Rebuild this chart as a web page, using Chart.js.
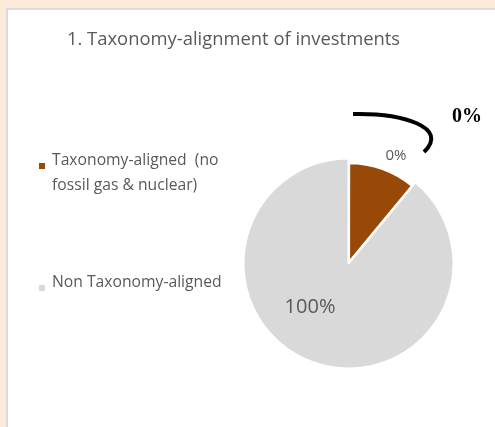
<!DOCTYPE html>
<html>
<head>
<meta charset="utf-8">
<script src="https://cdn.jsdelivr.net/npm/chart.js@4/dist/chart.umd.min.js"></script>
<style>
  html, body { margin: 0; padding: 0; background: #fcebd9; }
  #wrap { position: absolute; left: 0; top: 0; width: 495px; height: 427px; }
</style>
</head>
<body>
<div id="wrap"><canvas id="c" width="495" height="427"></canvas></div>
<script>
// data
const chartTitle = '1. Taxonomy-alignment of investments';
const categories = ['Taxonomy-aligned (no fossil gas & nuclear)', 'Non Taxonomy-aligned'];
const legendLines = [['Taxonomy-aligned  (no', 'fossil gas & nuclear)'], ['Non Taxonomy-aligned']];
const sliceValues = [11, 89];          // visible share of the pie
const sliceLabels = ['0%', '100%'];    // printed labels
const calloutText = '0%';
const sliceColors = ['#984807', '#d9d9d9'];

const font = '"Open Sans", Lato, sans-serif';
const textGrey = '#595959';

// background panel + title + legend + callout, all drawn on the canvas
const decor = {
  id: 'decor',
  beforeDraw(chart) {
    const ctx = chart.ctx;
    ctx.save();
    ctx.fillStyle = '#fcebd9';
    ctx.fillRect(0, 0, 495, 427);
    ctx.fillStyle = '#dcdcdc';
    ctx.fillRect(6, 8, 489, 419);
    ctx.fillStyle = '#ffffff';
    ctx.fillRect(8, 10, 487, 417);

    ctx.fillStyle = textGrey;
    ctx.textBaseline = 'alphabetic';
    ctx.font = '18.4px ' + font;
    ctx.fillText(chartTitle, 67, 45);

    // legend
    ctx.font = '15.7px ' + font;
    const legendY = [165, 287];
    legendLines.forEach((lines, i) => {
      ctx.fillStyle = sliceColors[i];
      ctx.fillRect(39, legendY[i] - 2, 6, 6);
      ctx.fillStyle = textGrey;
      lines.forEach((t, j) => ctx.fillText(t, 52, legendY[i] + j * 25));
    });
    ctx.restore();
  },
  afterDraw(chart) {
    const ctx = chart.ctx;
    ctx.save();
    ctx.fillStyle = textGrey;
    ctx.textAlign = 'center';
    ctx.textBaseline = 'middle';
    // slice labels
    ctx.font = '15px ' + font;
    ctx.fillText(sliceLabels[0], 396, 156);
    ctx.font = '20px ' + font;
    ctx.fillText(sliceLabels[1], 310, 307);

    // black callout curve
    ctx.strokeStyle = '#000';
    ctx.lineWidth = 4;
    ctx.beginPath();
    ctx.moveTo(353, 114);
    ctx.bezierCurveTo(402, 113, 450, 127, 424, 152);
    ctx.stroke();

    ctx.fillStyle = '#000';
    ctx.font = 'bold 20px "Liberation Serif", serif';
    ctx.fillText(calloutText, 467, 117);
    ctx.restore();
  },
  afterDatasetsUpdate(chart) {
    // exploded slice keeps a smaller radius, like the original
    const arc = chart.getDatasetMeta(0).data[0];
    if (arc) arc.outerRadius -= 7;
  }
};

new Chart(document.getElementById('c'), {
  type: 'pie',
  data: {
    labels: categories,
    datasets: [{
      data: sliceValues,
      backgroundColor: sliceColors,
      borderColor: '#ffffff',
      borderWidth: 2,
      offset: [7, 0],
      hoverOffset: 0
    }]
  },
  options: {
    responsive: false,
    animation: false,
    events: [],
    layout: { padding: { left: 239, right: 37, top: 154, bottom: 54 } },
    plugins: {
      legend: { display: false },
      title: { display: false },
      tooltip: { enabled: false }
    }
  },
  plugins: [decor]
});
</script>
</body>
</html>
